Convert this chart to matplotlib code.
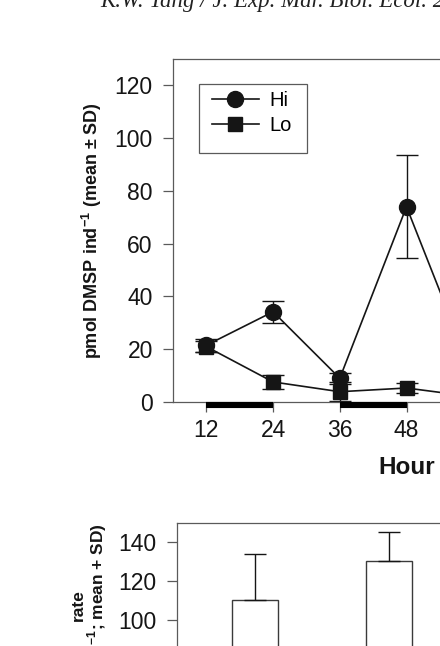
import matplotlib
matplotlib.use("Agg")
import matplotlib.pyplot as plt
import matplotlib.transforms as mtransforms
from matplotlib.patches import Rectangle

plt.rcParams['font.family'] = ['Liberation Sans', 'DejaVu Sans']
plt.rcParams['mathtext.fontset'] = 'custom'
plt.rcParams['mathtext.rm'] = 'Liberation Sans'
plt.rcParams['mathtext.bf'] = 'Liberation Sans:bold'

# ---------------- data ----------------
hours = [12, 24, 36, 48, 60]
hi_mean = [21.5, 34.2, 9.0, 74.0, 10.0]
hi_sd = [2.5, 4.2, 2.0, 19.5, 2.0]
lo_mean = [21.0, 7.6, 3.9, 5.3, 2.0]
lo_sd = [2.0, 2.5, 3.5, 2.0, 1.0]
dark_periods = [(12, 24), (36, 48)]
x_ticks = [12, 24, 36, 48]
y_ticks_top = [0, 20, 40, 60, 80, 100, 120]

bar_groups = ['Hi', 'Lo']
bar_mean = [110.6, 130.4]
bar_sd = [23.6, 14.9]
y_ticks_bottom = [100, 120, 140]

header = "K.W. Tang / J. Exp. Mar. Biol. Ecol. 2"

# ---------------- figure ----------------
W, H = 440, 646
fig = plt.figure(figsize=(W / 100, H / 100), dpi=100)

def px_axes(left, top, width, height):
    return fig.add_axes([left / W, 1 - (top + height) / H, width / W, height / H])

spine_c = '#5a5a5a'
ink = '#151515'

# header (cut at the top of the scan)
fig.text(100 / W, 1 - 7 / H, header, family='Liberation Serif', style='italic',
         fontsize=16.5, ha='left', va='baseline', color='#222222')

# ---------- top panel ----------
ax = px_axes(173, 59, 467, 343)
hi_line, = ax.plot(hours, hi_mean, color=ink, lw=1.2, marker='o', ms=11.5,
                   mfc=ink, mec=ink, label='Hi', zorder=3, clip_on=False)
lo_line, = ax.plot(hours, lo_mean, color=ink, lw=1.2, marker='s', ms=10,
                   mfc=ink, mec=ink, label='Lo', zorder=3, clip_on=False)
ax.errorbar(hours, hi_mean, yerr=hi_sd, fmt='none', ecolor=ink, capsize=8,
            elinewidth=1.0, capthick=1.0, zorder=2, clip_on=False)
ax.errorbar(hours, lo_mean, yerr=lo_sd, fmt='none', ecolor=ink, capsize=8,
            elinewidth=1.0, capthick=1.0, zorder=2, clip_on=False)
ax.set_xlim(6, 90)
ax.set_ylim(0, 130)
ax.set_xticks(x_ticks)
ax.set_yticks(y_ticks_top)
for s in ax.spines.values():
    s.set_color(spine_c)
    s.set_linewidth(0.9)
ax.tick_params(axis='both', direction='out', length=7, width=0.9, color=spine_c,
               labelsize=16.5, labelcolor=ink)
ax.tick_params(axis='x', pad=5)
ax.tick_params(axis='y', pad=7.5)
ax.set_xlabel('Hour', fontsize=17.5, fontweight='bold', labelpad=10, color=ink)
ax.set_ylabel('pmol DMSP ind$^{\\mathbf{-1}}$ (mean \u00b1 SD)', fontsize=13,
              fontweight='bold', color=ink)
ax.yaxis.set_label_coords((104 - 173) / 467, 0.5)

trans = mtransforms.blended_transform_factory(ax.transData, ax.transAxes)
for a, b in dark_periods:
    ax.plot([a, b], [-0.009, -0.009], transform=trans, color='black', lw=4.4,
            solid_capstyle='butt', clip_on=False, zorder=4)

ax.legend(handles=[hi_line, lo_line], loc='upper left',
          bbox_to_anchor=((212 - 173) / 467, (402 - 91) / 343),
          frameon=False, fontsize=14.5, handlelength=2.33, handletextpad=0.5,
          labelspacing=0.3, borderpad=0, borderaxespad=0)
ax.add_patch(Rectangle(((199 - 173) / 467, (402 - 153) / 343), 108 / 467, 69 / 343,
                       transform=ax.transAxes, fill=False, edgecolor=spine_c, lw=0.9,
                       zorder=5))

# ---------- bottom panel ----------
ax2 = px_axes(177, 523, 290, 292)
xpos = list(range(len(bar_groups)))
ax2.bar(xpos, bar_mean, width=0.34, color='white', edgecolor='#3a3a3a', lw=1.0,
        yerr=[[0] * len(bar_sd), bar_sd], capsize=8,
        error_kw=dict(elinewidth=1.0, capthick=1.0, ecolor=ink))
ax2.set_xlim(-0.58, 1.58)
ax2.set_ylim(0, 150)
ax2.set_yticks(y_ticks_bottom)
ax2.set_xticks(xpos)
ax2.set_xticklabels([])
for s in ax2.spines.values():
    s.set_color(spine_c)
    s.set_linewidth(0.9)
ax2.tick_params(axis='both', direction='out', length=7, width=0.9, color=spine_c,
                labelsize=16.5, labelcolor=ink)
ax2.tick_params(axis='y', pad=7.5)
ax2.set_ylabel('rate\n(ml h$^{\\mathbf{-1}}$; mean + SD)',
               fontsize=12.5, fontweight='bold', color=ink, linespacing=1.0)
ax2.yaxis.set_label_coords((109 - 177) / 290, (815 - 605) / 292)

fig.savefig('out.png', dpi=100)
